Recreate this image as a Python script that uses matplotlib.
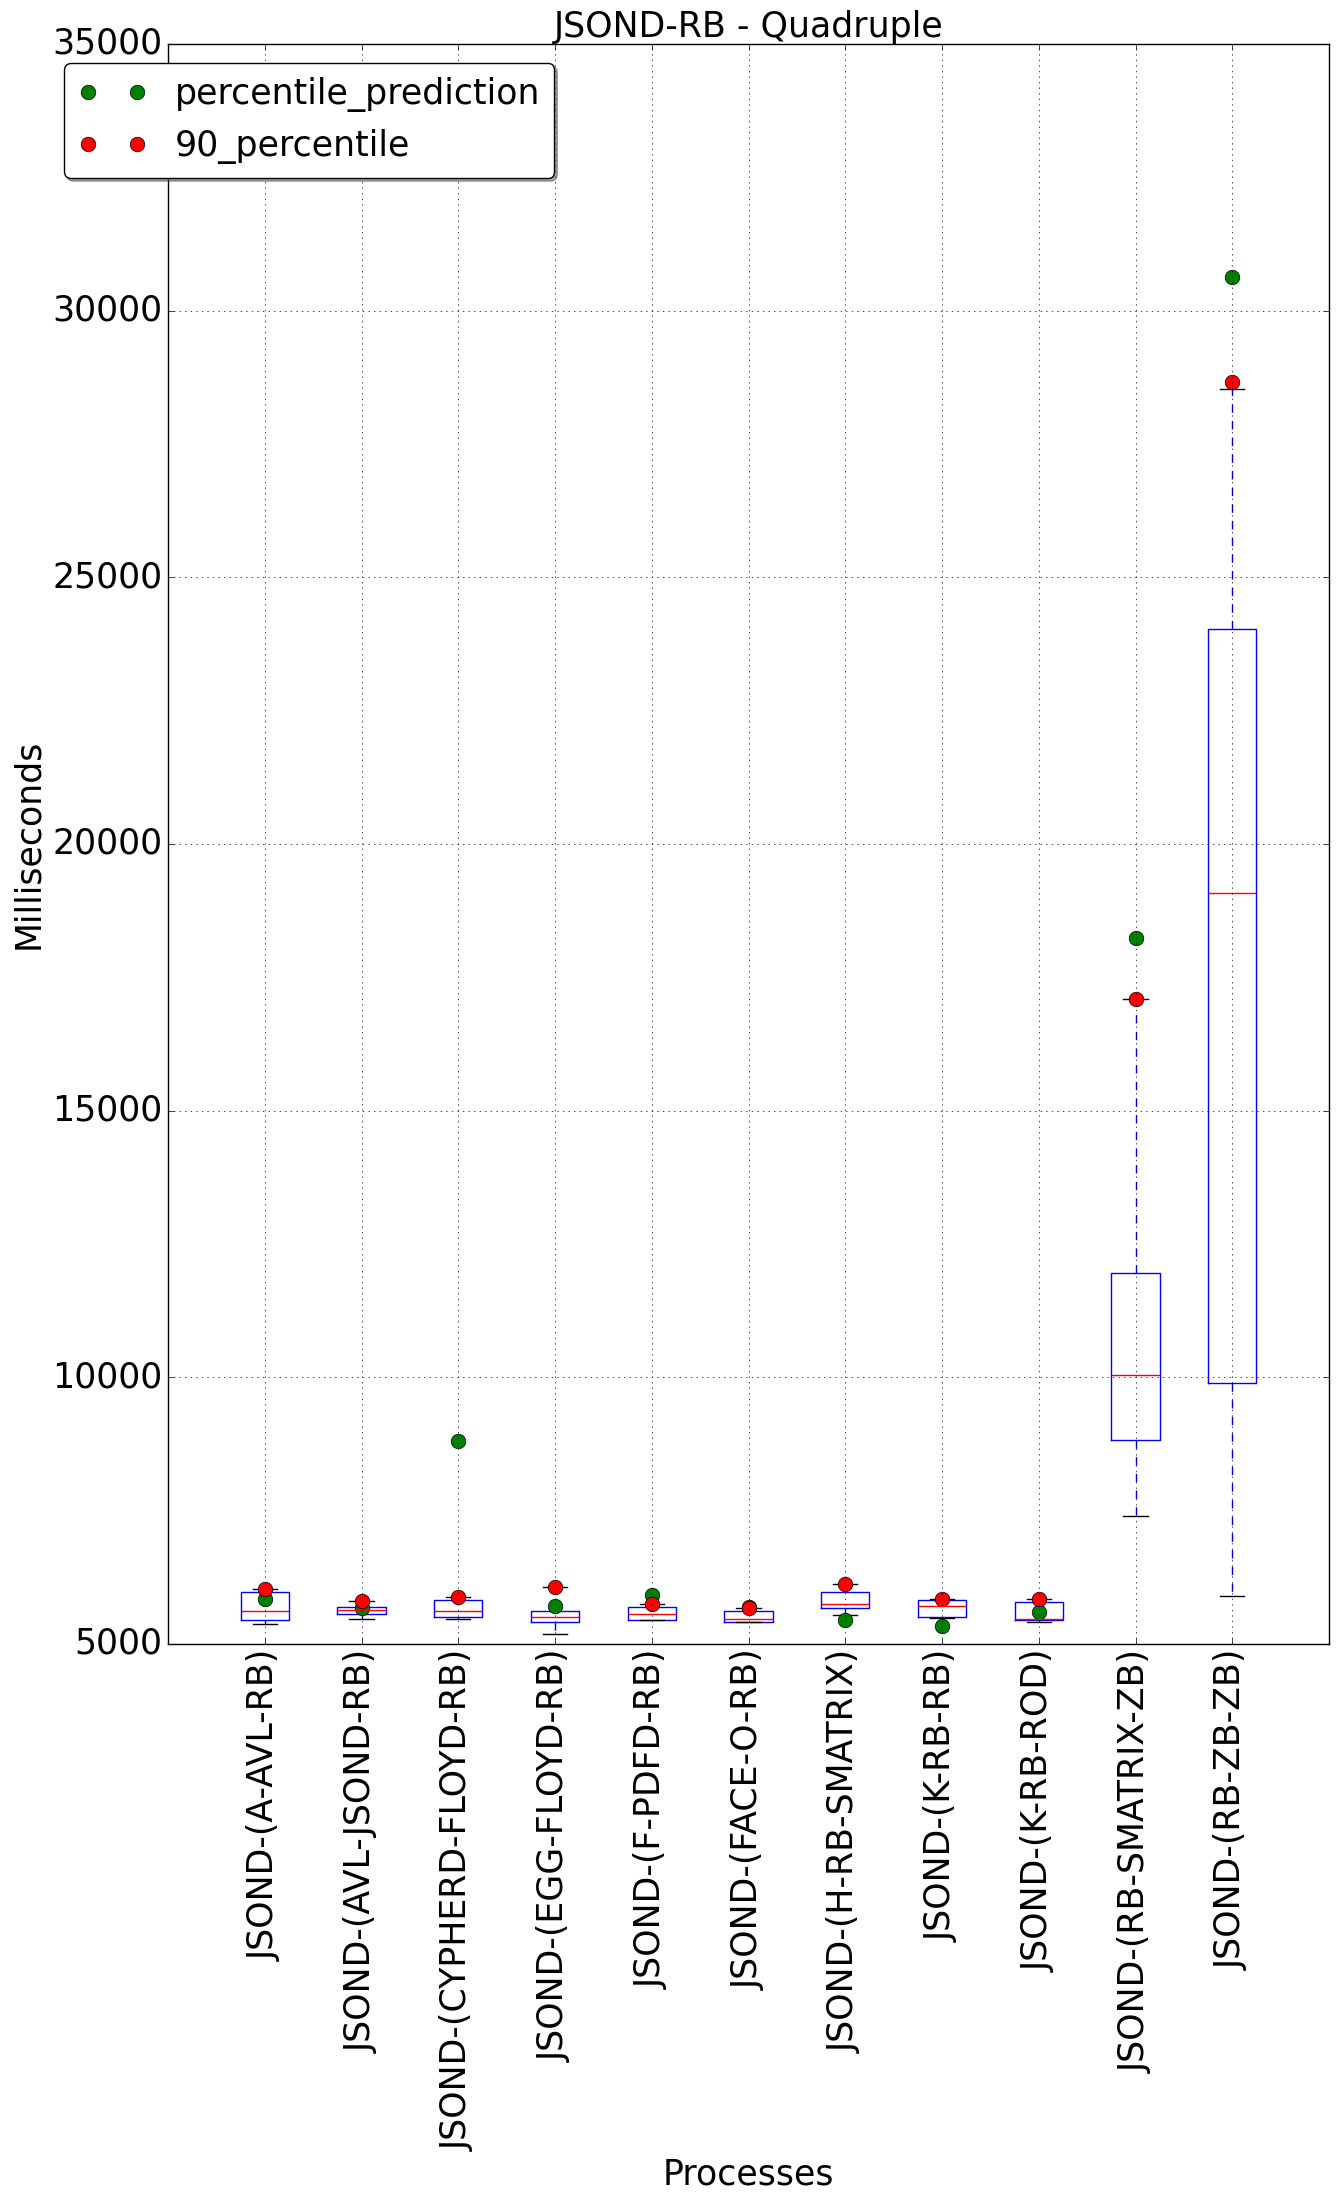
import matplotlib
matplotlib.use("Agg")
import matplotlib.pyplot as plt

plt.style.use("classic")

# Process names (x tick labels)
PROCESSES = [
    "JSOND-(A-AVL-RB)", "JSOND-(AVL-JSOND-RB)", "JSOND-(CYPHERD-FLOYD-RB)",
    "JSOND-(EGG-FLOYD-RB)", "JSOND-(F-PDFD-RB)", "JSOND-(FACE-O-RB)",
    "JSOND-(H-RB-SMATRIX)", "JSOND-(K-RB-RB)", "JSOND-(K-RB-ROD)",
    "JSOND-(RB-SMATRIX-ZB)", "JSOND-(RB-ZB-ZB)",
]

# Box statistics (milliseconds)
whisker_low = [5369, 5469, 5469, 5181, 5444, 5406, 5538, 5481, 5406, 7400, 5894]
q1 = [5444, 5556, 5500, 5406, 5444, 5418, 5669, 5500, 5444, 8825, 9885]
median = [5619, 5638, 5619, 5500, 5556, 5463, 5744, 5706, 5463, 10043, 19075]
q3 = [5975, 5688, 5825, 5619, 5688, 5619, 5975, 5819, 5788, 11949, 24026]
whisker_high = [6031, 5806, 5875, 6069, 5744, 5669, 6131, 5844, 5844, 17090, 28525]

# Point series
percentile_prediction = [5838, 5681, 8800, 5713, 5913, 5700, 5444, 5331, 5594, 18243, 30625]
percentile_90 = [6031, 5806, 5875, 6069, 5744, 5669, 6131, 5844, 5844, 17090, 28657]

positions = list(range(1, len(PROCESSES) + 1))

stats = []
for i, name in enumerate(PROCESSES):
    stats.append({
        "label": name,
        "whislo": whisker_low[i],
        "q1": q1[i],
        "med": median[i],
        "q3": q3[i],
        "whishi": whisker_high[i],
        "fliers": [],
    })

fig = plt.figure(figsize=(13.39, 22.05), dpi=100)
ax = fig.add_axes([168 / 1339, 1 - 1644 / 2205, 1161 / 1339, 1600 / 2205])

ax.bxp(stats, positions=positions, widths=0.5, showfliers=False)

ax.plot(positions, percentile_prediction, "o", color="g", markersize=10.5,
        label="percentile_prediction")
ax.plot(positions, percentile_90, "o", color="r", markersize=10.5,
        label="90_percentile")

ax.set_xlim(0, 12)
ax.set_ylim(5000, 35000)
ax.set_yticks(range(5000, 35001, 5000))
ax.set_xticks(positions)
ax.set_xticklabels(PROCESSES, rotation=90, fontsize=25)
ax.tick_params(axis="y", labelsize=25)
ax.grid(True)

ax.set_title("JSOND-RB - Quadruple", fontsize=25)
ax.set_xlabel("Processes", fontsize=25)
ax.set_ylabel("Milliseconds", fontsize=25)

ax.legend(loc="upper left", bbox_to_anchor=(-0.0896, 0.988), borderaxespad=0,
          fontsize=25, numpoints=2, markerscale=1.0, shadow=True, fancybox=True)

fig.savefig("out.png", dpi=100)
